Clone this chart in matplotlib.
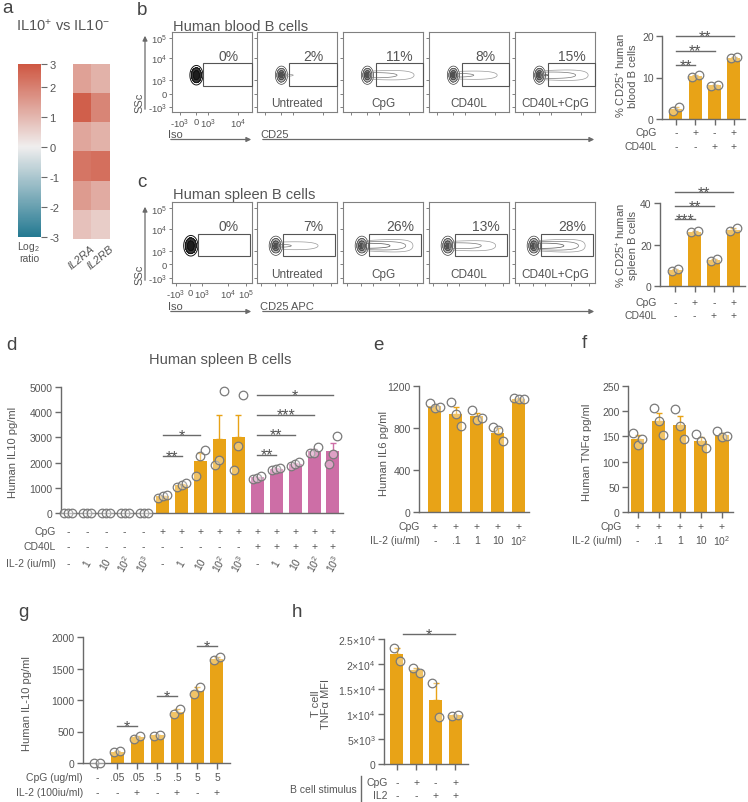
import numpy as np
import matplotlib
matplotlib.use('Agg')
import matplotlib.pyplot as plt
from matplotlib import transforms
from matplotlib.colors import LinearSegmentedColormap, Normalize
from matplotlib.lines import Line2D
from matplotlib.patches import Rectangle, FancyArrowPatch

# ---------------- data ----------------
hm_genes = ['IL2RA', 'IL2RB']
hm_values = [[1.4, 1.1], [2.6, 1.9], [1.3, 1.1], [2.2, 2.3], [1.5, 1.2], [0.8, 0.6]]
cbar_ticks = [2.75, 2, 1, 0, -1, -2, -3]
cbar_labels = ['3', '2', '1', '0', '-1', '-2', '-3']

flow_labels = ['', 'Untreated', 'CpG', 'CD40L', 'CD40L+CpG']
blood_pct = [0, 2, 11, 8, 15]
spleen_pct = [0, 7, 26, 13, 28]

b_points = [[2.0, 2.8], [10.1, 10.7], [8.0, 8.3], [14.6, 14.9]]
b_cpg = ['-', '+', '-', '+']
b_cd40l = ['-', '-', '+', '+']
b_sig = [(0, 1, 13.0, '**'), (0, 2, 16.5, '**'), (0, 3, 20.0, '**')]

c_points = [[7.2, 8.0], [25.9, 26.5], [12.2, 13.0], [26.3, 28.0]]
c_cpg = ['-', '+', '-', '+']
c_cd40l = ['-', '-', '+', '+']
c_sig = [(0, 1, 32.3, '***'), (0, 2, 38.5, '**'), (0, 3, 45.3, '**')]

d_points = [[0, 0, 0], [0, 0, 0], [0, 0, 0], [0, 0, 0], [0, 0, 0],
            [600, 680, 700], [1050, 1100, 1200], [1450, 2250, 2500],
            [1900, 2100, 4850], [1700, 2650, 4700],
            [1350, 1400, 1480], [1720, 1750, 1800], [1880, 1950, 2020],
            [2400, 2400, 2600], [1950, 2350, 3050]]
d_group = ['none'] * 5 + ['cpg'] * 5 + ['both'] * 5
d_cpg = ['-'] * 5 + ['+'] * 10
d_cd40l = ['-'] * 10 + ['+'] * 5
d_il2 = ['-', '1', '10', '10$^2$', '10$^3$'] * 3
d_sig = [(5, 6, 2250, '**'), (5, 7, 3080, '*'), (10, 11, 2320, '**'),
         (10, 12, 3110, '**'), (10, 13, 3900, '***'), (10, 14, 4670, '*')]

e_points = [[1035, 990, 1000], [1045, 930, 820], [975, 880, 900], [810, 780, 680], [1090, 1075, 1075]]
e_cpg = ['+'] * 5
e_il2 = ['-', '.1', '1', '10', '10$^2$']

f_points = [[157, 133, 145], [207, 180, 153], [205, 170, 145], [155, 140, 127], [160, 148, 150]]
f_cpg = ['+'] * 5
f_il2 = ['-', '.1', '1', '10', '10$^2$']

g_points = [[0, 0], [170, 185], [385, 435], [430, 450], [780, 850], [1100, 1200], [1630, 1680]]
g_cpg = ['-', '.05', '.05', '.5', '.5', '5', '5']
g_il2 = ['-', '-', '+', '-', '+', '-', '+']
g_sig = [(1, 2, 590, '*'), (3, 4, 1065, '*'), (5, 6, 1860, '*')]

h_points = [[23200, 20700], [19300, 18200], [16300, 9500], [9600, 9900]]
h_cpg = ['-', '+', '-', '+']
h_il2 = ['-', '-', '+', '+']
h_sig = [(0.3, 3, 26000, '*')]
h_yticks = [0, 5000, 10000, 15000, 20000, 25000]
h_yticklabels = ['0', '5×10$^3$', '1×10$^4$', '1.5×10$^4$', '2×10$^4$', '2.5×10$^4$']

# ---------------- style ----------------
W, H = 748, 803
plt.rcParams['font.family'] = ['Liberation Sans', 'DejaVu Sans']
plt.rcParams['mathtext.fontset'] = 'custom'
plt.rcParams['mathtext.rm'] = 'Liberation Sans'
plt.rcParams['mathtext.it'] = 'Liberation Sans:italic'
plt.rcParams['mathtext.default'] = 'regular'

TXT = '#555555'
LN = '#6a6a6a'
ORANGE = '#E8A317'
PINK = '#CD6EA6'
PT_EDGE = '#7a7a7a'
LET = '#444444'

fig = plt.figure(figsize=(W / 100, H / 100), dpi=100)


def axpx(x0, y0, x1, y1):
    return fig.add_axes([x0 / W, 1 - y1 / H, (x1 - x0) / W, (y1 - y0) / H])


def ftext(x, y, s, **kw):
    kw.setdefault('color', TXT)
    return fig.text(x / W, 1 - y / H, s, **kw)


def P(x, y):
    return (x / W, 1 - y / H)


def letter(x, y, s):
    ftext(x, y, s, fontsize=13.5, color=LET, va='baseline', ha='left')


def arrow(x0, y0, x1, y1):
    fig.add_artist(FancyArrowPatch(P(x0, y0), P(x1, y1), transform=fig.transFigure,
                                   arrowstyle='-|>', mutation_scale=7, color=LN, lw=0.9))


def jitter(n):
    return {1: [0.0], 2: [-0.17, 0.17], 3: [-0.22, 0.0, 0.22]}[n]


def setup_bar_ax(ax, xlim, ylim, yticks, yticklabels=None, xticks=None):
    ax.set_xlim(*xlim)
    ax.set_ylim(*ylim)
    for s in ['top', 'right']:
        ax.spines[s].set_visible(False)
    for s in ['left', 'bottom']:
        ax.spines[s].set_color(LN)
        ax.spines[s].set_linewidth(1.0)
    ax.set_yticks(yticks)
    if yticklabels is not None:
        ax.set_yticklabels(yticklabels)
    ax.tick_params(axis='y', direction='out', length=4, width=1, color=LN,
                   labelcolor=TXT, labelsize=7.5, pad=2)
    if xticks is not None:
        ax.set_xticks(xticks)
        ax.set_xticklabels([])
        ax.tick_params(axis='x', direction='out', length=4, width=1, color=LN)
    else:
        ax.set_xticks([])
    ax.patch.set_alpha(0)


def draw_bars(ax, points, colors, width):
    x = np.arange(len(points))
    means = np.array([np.mean(p) for p in points])
    sems = np.array([np.std(p, ddof=1) / np.sqrt(len(p)) for p in points])
    ax.bar(x, means, width=width, color=colors, zorder=1, linewidth=0)
    for i, p in enumerate(points):
        if sems[i] > 0:
            ax.errorbar(x[i], means[i], yerr=[[0], [sems[i]]], fmt='none', ecolor=colors[i],
                        elinewidth=1, capsize=2.5, capthick=1, zorder=2, clip_on=False)
        ax.scatter(x[i] + np.array(jitter(len(p))), p, s=38, facecolors=(1, 1, 1, 0.35),
                   edgecolors=PT_EDGE, linewidths=0.9, zorder=3, clip_on=False)
    return x


def sig(ax, x1, x2, y, stars, fs=11.5):
    ax.plot([x1, x2], [y, y], color=LN, lw=1, clip_on=False, zorder=4)
    ax.annotate(stars, xy=((x1 + x2) / 2, y), xytext=(0, -3.5), textcoords='offset points',
                ha='center', va='baseline', fontsize=fs, color=TXT, annotation_clip=False)


def rows(ax, rowvals, ys, labels, label_x, fs=7.5, rot=None):
    trans = transforms.blended_transform_factory(ax.transData, fig.transFigure)
    for r, (vals, ypx, lab) in enumerate(zip(rowvals, ys, labels)):
        for x, v in enumerate(vals):
            rr = 0
            if rot is not None and rot[r] and v != '-':
                rr = rot[r]
            ax.text(x, 1 - ypx / H, v, transform=trans, ha='center', va='center',
                    fontsize=fs, color=TXT, rotation=rr, rotation_mode='anchor')
        ftext(label_x, ypx, lab, ha='right', va='center', fontsize=fs)


# ---------------- panel a ----------------
letter(2, 13, 'a')
ftext(63, 26, 'IL10$^{+}$ vs IL10$^{-}$', ha='center', va='center', fontsize=10.5)
cmap = LinearSegmentedColormap.from_list('rb', ['#257a92', '#f0eeee', '#cc4a33'])
axc = axpx(18, 65, 41, 238)
grad = np.linspace(2.75, -3, 256).reshape(-1, 1)
axc.imshow(grad, cmap=cmap, norm=Normalize(-3, 3), aspect='auto', extent=[0, 1, -3, 2.75])
axc.set_xticks([])
axc.yaxis.tick_right()
axc.set_yticks(cbar_ticks)
axc.set_yticklabels(cbar_labels)
axc.tick_params(axis='y', length=4, width=0.8, color=LN, labelcolor=TXT, labelsize=8, pad=2)
for s in axc.spines.values():
    s.set_visible(False)
ftext(29, 247, 'Log$_2$', ha='center', va='center', fontsize=7.5)
ftext(29, 259, 'ratio', ha='center', va='center', fontsize=7.5)

axh = axpx(73, 65, 110, 240)
axh.imshow(np.array(hm_values), cmap=cmap, norm=Normalize(-3, 3), aspect='auto')
axh.set_xticks([])
axh.set_yticks([])
for s in axh.spines.values():
    s.set_visible(False)
for i, g in enumerate(hm_genes):
    axh.text(i + 0.45, 5.62, g, ha='right', va='top', rotation=40, rotation_mode='anchor',
             fontsize=8, fontstyle='italic', color=TXT)

# ---------------- flow panels b / c ----------------
flow_x0 = [172, 257, 343, 429, 515]
yt_frac = [0.06, 0.23, 0.40, 0.67, 0.92]
yt_lab = ['-10$^3$', '0', '10$^3$', '10$^4$', '10$^5$']


def flow_panel(ax, pct, label, cx, sx, sy, gate, first, xt, xtl, iso):
    xs = np.linspace(0, 1, 300)
    X, Y = np.meshgrid(xs, xs)
    cy = 0.46
    core = np.exp(-0.5 * (((X - cx) / sx) ** 2 + ((Y - cy) / sy) ** 2))
    if iso:
        ax.contourf(X, Y, core, levels=[0.15, 0.5, 2], colors=['#3a3a3a', '#1e1e1e'])
        ax.contour(X, Y, core, levels=[0.04, 0.15, 0.5], colors='#111111', linewidths=0.7)
    else:
        A = 0.0016 * pct
        dx = np.clip(X - cx, 0, None)
        ramp = 0.5 * (1 + np.tanh((X - cx - 0.04) / 0.02)) * np.clip(1 - dx / 0.68, 0, 1)
        tail = A * ramp * np.exp(-0.5 * ((Y - cy) / (0.025 + 0.035 * dx)) ** 2)
        ax.contourf(X, Y, core, levels=[0.2, 0.5, 0.8, 2], colors=['#b5b5b5', '#808080', '#505050'])
        ax.contour(X, Y, core, levels=[0.06, 0.2, 0.5], colors='#3a3a3a', linewidths=0.5)
        ax.contour(X, Y, tail, levels=[0.0025, 0.008, 0.02], colors=['#9a9a9a', '#777777', '#555555'],
                   linewidths=0.5)
    ax.add_patch(Rectangle((gate[0], gate[2]), gate[1] - gate[0], gate[3] - gate[2], fill=False,
                           ec='#555555', lw=0.8, transform=ax.transAxes, clip_on=False, zorder=5))
    ax.text(0.71, 0.70, f'{pct}%', transform=ax.transAxes, ha='center', va='center',
            fontsize=10, color=TXT)
    if label:
        ax.text(0.5, 0.11, label, transform=ax.transAxes, ha='center', va='center',
                fontsize=8.5, color=TXT)
    ax.set_xlim(0, 1)
    ax.set_ylim(0, 1)
    ax.set_yticks(yt_frac)
    ax.set_xticks(xt)
    for s in ax.spines.values():
        s.set_color('#808080')
        s.set_linewidth(0.8)
    ax.tick_params(length=2.5, width=0.7, color='#808080', labelsize=6.8, labelcolor=TXT, pad=1)
    if first:
        ax.set_yticklabels(yt_lab)
        ax.set_xticklabels(xtl)
    else:
        ax.set_yticklabels([])
        ax.set_xticklabels([])


# b
letter(137, 15, 'b')
ftext(173, 27, 'Human blood B cells', ha='left', va='center', fontsize=10.5)
for i in range(5):
    ax = axpx(flow_x0[i], 33, flow_x0[i] + 80, 113)
    gx = [0.39, 0.40, 0.41, 0.41, 0.41][i]
    flow_panel(ax, blood_pct[i], flow_labels[i], 0.305, 0.032, 0.048, (gx, 1.0, 0.325, 0.61),
               i == 0, [0.1, 0.3, 0.45, 0.82], ['-10$^3$', '0', '10$^3$', '10$^4$'], i == 0)
arrow(145, 113, 145, 34)
ftext(139, 103, 'SSc', rotation=90, ha='center', va='center', fontsize=8)
ftext(168, 135, 'Iso', ha='left', va='center', fontsize=8)
arrow(168, 140.5, 254, 140.5)
ftext(260, 135, 'CD25', ha='left', va='center', fontsize=8)
arrow(260, 140.5, 597, 140.5)

# c
letter(137, 187, 'c')
ftext(173, 195, 'Human spleen B cells', ha='left', va='center', fontsize=10.5)
for i in range(5):
    ax = axpx(flow_x0[i], 203, flow_x0[i] + 80, 284)
    flow_panel(ax, spleen_pct[i], flow_labels[i], 0.235, 0.035, 0.05, (0.33, 0.975, 0.33, 0.6),
               i == 0, [0.05, 0.23, 0.38, 0.70, 0.93],
               ['-10$^3$', '0', '10$^3$', '10$^4$', '10$^5$'], i == 0)
arrow(145, 284, 145, 205)
ftext(139, 275, 'SSc', rotation=90, ha='center', va='center', fontsize=8)
ftext(168, 307, 'Iso', ha='left', va='center', fontsize=8)
arrow(168, 312.5, 254, 312.5)
ftext(260, 307, 'CD25 APC', ha='left', va='center', fontsize=8)
arrow(260, 312.5, 597, 312.5)

# b bar
axb = axpx(662, 37, 745, 120)
xb = draw_bars(axb, b_points, [ORANGE] * 4, 0.67)
setup_bar_ax(axb, (-0.72, 3.57), (0, 20), [0, 10, 20], xticks=xb)
for s in b_sig:
    sig(axb, *s)
rows(axb, [b_cpg, b_cd40l], [133, 147], ['CpG', 'CD40L'], 657)
ftext(626, 76, '% CD25$^{+}$ human\nblood B cells', rotation=90, ha='center', va='center',
      fontsize=8, multialignment='center', linespacing=1.0)

# c bar
axcb = axpx(660, 204, 745, 287)
xc = draw_bars(axcb, c_points, [ORANGE] * 4, 0.67)
setup_bar_ax(axcb, (-0.78, 3.6), (0, 40), [0, 20, 40], xticks=xc)
for s in c_sig:
    sig(axcb, *s)
rows(axcb, [c_cpg, c_cd40l], [303, 316], ['CpG', 'CD40L'], 657)
ftext(626, 246, '% CD25$^{+}$ human\nspleen B cells', rotation=90, ha='center', va='center',
      fontsize=8, multialignment='center', linespacing=1.0)

# ---------------- panel d ----------------
letter(6, 350, 'd')
ftext(220, 360, 'Human spleen B cells', ha='center', va='center', fontsize=10.5)
axd = axpx(61, 388, 343, 514)
dcol = [{'none': ORANGE, 'cpg': ORANGE, 'both': PINK}[g] for g in d_group]
draw_bars(axd, d_points, dcol, 0.69)
setup_bar_ax(axd, (-0.37, 14.53), (0, 5000), [0, 1000, 2000, 3000, 4000, 5000])
for s in d_sig:
    sig(axd, *s)
rows(axd, [d_cpg, d_cd40l, d_il2], [532, 547, 564], ['CpG', 'CD40L', 'IL-2 (iu/ml)'], 56,
     rot=[0, 0, 60])
ftext(13, 452, 'Human IL10 pg/ml', rotation=90, ha='center', va='center', fontsize=8)

# ---------------- panel e ----------------
letter(373, 350, 'e')
axe = axpx(419, 387, 529, 513)
draw_bars(axe, e_points, [ORANGE] * 5, 0.62)
setup_bar_ax(axe, (-0.76, 4.48), (0, 1200), [0, 400, 800, 1200])
rows(axe, [e_cpg, e_il2], [527, 541], ['CpG', 'IL-2 (iu/ml)'], 420)
ftext(384, 454, 'Human IL6 pg/ml', rotation=90, ha='center', va='center', fontsize=8)

# ---------------- panel f ----------------
letter(582, 348, 'f')
axf = axpx(628, 387, 733, 513)
xf = draw_bars(axf, f_points, [ORANGE] * 5, 0.62)
setup_bar_ax(axf, (-0.45, 4.52), (0, 250), [0, 50, 100, 150, 200, 250], xticks=xf)
rows(axf, [f_cpg, f_il2], [527, 541], ['CpG', 'IL-2 (iu/ml)'], 622)
ftext(587, 452, 'Human TNFα pg/ml', rotation=90, ha='center', va='center', fontsize=8)

# ---------------- panel g ----------------
letter(18, 617, 'g')
axg = axpx(83, 638, 230, 764)
xg = draw_bars(axg, g_points, [ORANGE] * 7, 0.65)
setup_bar_ax(axg, (-0.7, 6.65), (0, 2000), [0, 500, 1000, 1500, 2000], xticks=xg)
for s in g_sig:
    sig(axg, *s)
rows(axg, [g_cpg, g_il2], [778, 793], ['CpG (ug/ml)', 'IL-2 (100iu/ml)'], 83)
ftext(27, 704, 'Human IL-10 pg/ml', rotation=90, ha='center', va='center', fontsize=8)

# ---------------- panel h ----------------
letter(292, 617, 'h')
axhb = axpx(384, 640, 468, 765)
xh = draw_bars(axhb, h_points, [ORANGE] * 4, 0.67)
setup_bar_ax(axhb, (-0.67, 3.67), (0, 25000), h_yticks, h_yticklabels, xticks=xh)
for s in h_sig:
    sig(axhb, *s)
rows(axhb, [h_cpg, h_il2], [783, 796], ['CpG', 'IL2'], 388)
ftext(357, 790, 'B cell stimulus', ha='right', va='center', fontsize=7.5)
fig.add_artist(Line2D([361 / W, 361 / W], [1 - 777 / H, 1 - 802 / H], color=LN, lw=1,
                      transform=fig.transFigure))
ftext(316, 704, 'T cell', rotation=90, ha='center', va='center', fontsize=8)
ftext(326, 704, 'TNFα MFI', rotation=90, ha='center', va='center', fontsize=8)

fig.savefig('out.png', dpi=100)
